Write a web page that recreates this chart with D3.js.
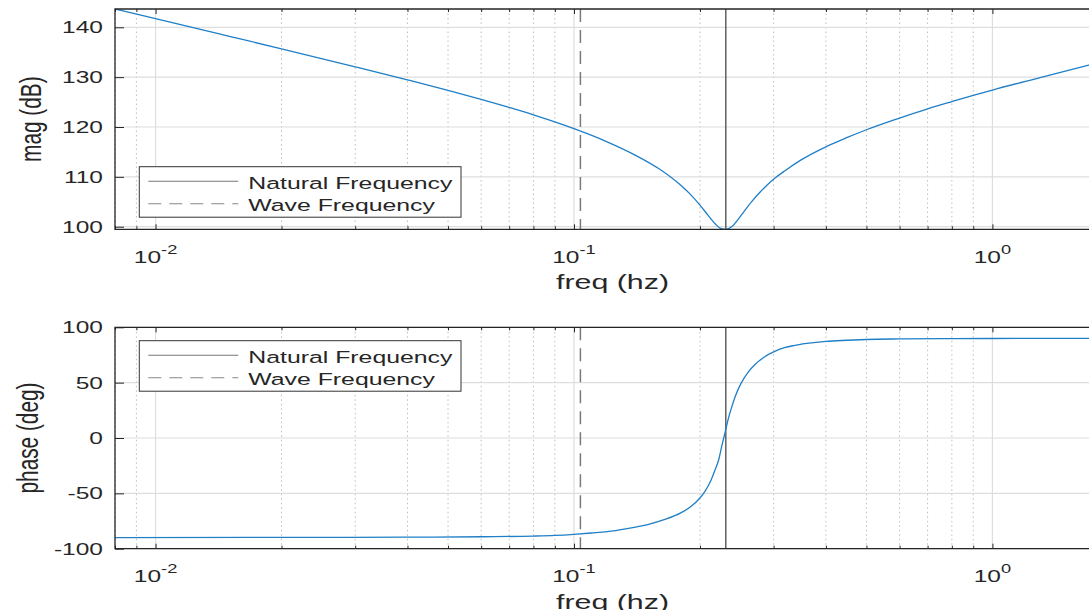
<!DOCTYPE html>
<html>
<head>
<meta charset="utf-8">
<script src="https://cdn.jsdelivr.net/npm/d3@7"></script>
<style>
body { margin: 0; background: #fff; }
svg { display: block; font-family: "Liberation Sans", Arial, sans-serif; }
</style>
</head>
<body>
<div id="chart"></div>
<script>
// values
var magFreq = [0.008, 0.01, 0.015, 0.02, 0.03, 0.04, 0.05, 0.06, 0.07, 0.08, 0.09, 0.1, 0.12, 0.14, 0.16, 0.18, 0.19, 0.2, 0.206, 0.212, 0.218, 0.224, 0.2306,
               0.239, 0.247, 0.2546, 0.265, 0.2793, 0.29, 0.3013, 0.32, 0.3475, 0.4011, 0.45, 0.5, 0.6, 0.7, 0.8, 0.9, 1.0, 1.3, 1.7, 1.91];
var magDb = [143.67, 141.74, 138.2, 135.68, 132.08, 129.47, 127.37, 125.55, 123.93, 122.44, 121.02, 119.66, 117.03, 114.37, 111.56, 108.3, 106.43, 104.33, 103.0, 101.66, 100.48, 99.66, 99.48,
             100.1, 101.51, 102.99, 104.89, 107.06, 108.4, 109.65, 111.28, 113.3, 116.07, 117.9, 119.45, 121.8, 123.65, 125.1, 126.35, 127.42, 129.9, 132.4, 133.48];

var phaseFreq = [0.008, 0.02, 0.04, 0.06, 0.08, 0.09, 0.1, 0.11, 0.12, 0.134, 0.15, 0.165, 0.18, 0.19, 0.2, 0.206, 0.212, 0.217, 0.222, 0.225, 0.228,
                 0.231, 0.234, 0.238, 0.243, 0.249, 0.255, 0.262, 0.27, 0.285, 0.301, 0.32, 0.335, 0.36, 0.4, 0.45, 0.5, 0.6, 0.8, 1.0, 1.91];
var phaseDeg = [-90, -89.8, -89.6, -89.2, -88.6, -88.0, -87.0, -85.8, -84.6, -81.8, -78.2, -73.6, -67.7, -62.1, -54.2, -47.7, -39.0, -29.5, -19.0, -9.0, 0,
                9.0, 18.0, 27.4, 37.7, 47.1, 54.1, 60.5, 66.0, 73.2, 78.0, 81.8, 83.5, 85.4, 87.3, 88.3, 89.0, 89.5, 89.8, 89.9, 90];

var naturalFreq = 0.2306;
var waveFreq = 0.1036;
var legendNames = ["Natural Frequency", "Wave Frequency"];

// tick labels
var xMajor = [0.01, 0.1, 1];
var xMajorExp = ["-2", "-1", "0"];
var xMinor = [0.008, 0.009, 0.02, 0.03, 0.04, 0.05, 0.06, 0.07, 0.08, 0.09,
              0.2, 0.3, 0.4, 0.5, 0.6, 0.7, 0.8, 0.9];
var magTicks = [100, 110, 120, 130, 140];
var phaseTicks = [-100, -50, 0, 50, 100];

// the figure is stretched sideways, text too
var SX = 1.46;
var left = 115, right = 1110;

var xscale = d3.scaleLog().domain([0.008, 1.91]).range([left, right]);

window.onload = function() {
    var svg = d3.select("#chart").append("svg").attr("width", 1089).attr("height", 610);

    panel(svg, {
        id: "mag", top: 9, bottom: 229.3, domain: [99.48, 143.67], ticks: magTicks,
        freq: magFreq, vals: magDb, ylabel: "mag (dB)", ylabelX: 41, legendY: 166.7
    });
    panel(svg, {
        id: "phase", top: 327.3, bottom: 548.7, domain: [-100, 100], ticks: phaseTicks,
        freq: phaseFreq, vals: phaseDeg, ylabel: "phase (deg)", ylabelX: 38, legendY: 340.7
    });
};

function stretched(g, x, y, str, size, anchor) {
    // text squeezed into the picture's wide look
    return g.append("text")
        .attr("transform", "translate(" + x + "," + y + ") scale(" + SX + ",1)")
        .attr("text-anchor", anchor)
        .style("font-size", size + "px")
        .attr("fill", "#262626")
        .text(str);
}

function panel(svg, p) {
    var yscale = d3.scaleLinear().domain(p.domain).range([p.bottom, p.top]);
    var g = svg.append("g");

    svg.append("clipPath").attr("id", "clip-" + p.id)
        .append("rect")
        .attr("x", left).attr("y", p.top)
        .attr("width", right - left).attr("height", p.bottom - p.top);

    // minor grid (dotted)
    g.selectAll(".minor").data(xMinor).enter().append("line")
        .attr("x1", function(d) { return xscale(d); })
        .attr("x2", function(d) { return xscale(d); })
        .attr("y1", p.top).attr("y2", p.bottom)
        .attr("stroke", "#bdbdbd")
        .attr("stroke-width", 1)
        .attr("stroke-dasharray", "1.5,3");

    // major grid
    g.selectAll(".gx").data(xMajor).enter().append("line")
        .attr("x1", function(d) { return xscale(d); })
        .attr("x2", function(d) { return xscale(d); })
        .attr("y1", p.top).attr("y2", p.bottom)
        .attr("stroke", "#dedede").attr("stroke-width", 1.2);
    g.selectAll(".gy").data(p.ticks).enter().append("line")
        .attr("x1", left).attr("x2", right)
        .attr("y1", function(d) { return yscale(d); })
        .attr("y2", function(d) { return yscale(d); })
        .attr("stroke", "#dedede").attr("stroke-width", 1.2);

    // frequency markers
    g.append("line")
        .attr("x1", xscale(naturalFreq)).attr("x2", xscale(naturalFreq))
        .attr("y1", p.top).attr("y2", p.bottom)
        .attr("stroke", "#555").attr("stroke-width", 1.4);
    g.append("line")
        .attr("x1", xscale(waveFreq)).attr("x2", xscale(waveFreq))
        .attr("y1", p.top).attr("y2", p.bottom)
        .attr("stroke", "#7a7a7a").attr("stroke-width", 1.5)
        .attr("stroke-dasharray", "13,8");

    // the response curve
    var line = d3.line()
        .x(function(d, i) { return xscale(p.freq[i]); })
        .y(function(d) { return yscale(d); })
        .curve(d3.curveMonotoneX);
    g.append("path")
        .datum(p.vals)
        .attr("clip-path", "url(#clip-" + p.id + ")")
        .attr("d", line)
        .attr("fill", "none")
        .attr("stroke", "#1f7fc7")
        .attr("stroke-width", 1.3);

    // ticks pointing inward
    function ticks(axis, ty) {
        var a = g.append("g").attr("transform", "translate(0," + ty + ")").call(axis);
        a.select(".domain").remove();
        a.selectAll("line").attr("stroke", "#262626");
    }
    ticks(d3.axisBottom(xscale).tickValues(xMajor).tickSize(-5).tickFormat(""), p.bottom);
    ticks(d3.axisBottom(xscale).tickValues(xMinor).tickSize(-3).tickFormat(""), p.bottom);
    ticks(d3.axisTop(xscale).tickValues(xMajor).tickSize(-5).tickFormat(""), p.top);
    ticks(d3.axisTop(xscale).tickValues(xMinor).tickSize(-3).tickFormat(""), p.top);
    var ya = g.append("g").attr("transform", "translate(" + left + ",0)")
        .call(d3.axisLeft(yscale).tickValues(p.ticks).tickSize(-9).tickFormat(""));
    ya.select(".domain").remove();
    ya.selectAll("line").attr("stroke", "#262626");

    // box (right side is cut off by the picture)
    g.append("path")
        .attr("d", "M" + right + "," + p.top + "H" + left + "V" + p.bottom + "H" + right)
        .attr("fill", "none").attr("stroke", "#262626").attr("stroke-width", 1.3);

    // y tick labels
    p.ticks.forEach(function(t) {
        stretched(g, 103, yscale(t), String(t), 16.8, "end").attr("dy", "0.35em");
    });

    // x tick labels, 10 to the power
    xMajor.forEach(function(t, i) {
        var txt = stretched(g, xscale(t), p.bottom + 33.7, "", 16.8, "middle");
        txt.append("tspan").text("10");
        txt.append("tspan").attr("dy", -9).style("font-size", "12.5px").text(xMajorExp[i]);
    });

    // axis labels
    stretched(g, (left + right) / 2, p.bottom + 60, "freq (hz)", 20.8, "middle");
    g.append("text")
        .attr("transform", "translate(" + p.ylabelX + "," + ((p.top + p.bottom) / 2) + ") scale(" + SX + ",1) rotate(-90)")
        .attr("text-anchor", "middle")
        .style("font-size", "20.8px")
        .attr("fill", "#262626")
        .text(p.ylabel);

    // legend
    var lg = g.append("g");
    lg.append("rect")
        .attr("x", 139.3).attr("y", p.legendY)
        .attr("width", 321.7).attr("height", 50.5)
        .attr("fill", "#fff").attr("stroke", "#333").attr("stroke-width", 1);
    legendNames.forEach(function(name, i) {
        var ly = p.legendY + 14.5 + i * 22.5;
        lg.append("line")
            .attr("x1", 148.3).attr("x2", 238.3)
            .attr("y1", ly).attr("y2", ly)
            .attr("stroke", i === 0 ? "#777" : "#888")
            .attr("stroke-width", 1.1)
            .attr("stroke-dasharray", i === 0 ? null : "13,8");
        stretched(lg, 248.3, ly + 7.5, name, 17, "start");
    });
}
</script>
</body>
</html>
